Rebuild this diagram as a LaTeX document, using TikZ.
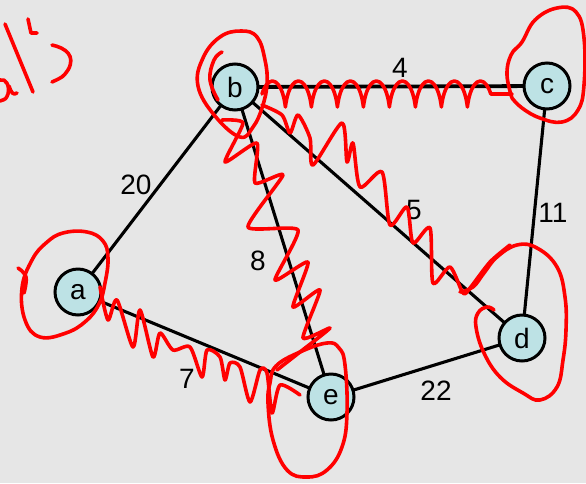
\documentclass[tikz,border=0pt]{standalone}
\usepackage{fontspec}
\setmainfont{Liberation Sans}
\usetikzlibrary{decorations.pathmorphing}
\definecolor{bg}{HTML}{E6E6E6}
\definecolor{nodefill}{HTML}{BDE2E5}
\definecolor{ink}{HTML}{FF0000}
\begin{document}
\begin{tikzpicture}[x=1pt,y=-1pt,
  vertex/.style={circle, draw=black, line width=3pt, fill=nodefill, minimum size=46pt, inner sep=0pt, font=\fontsize{28}{30}\selectfont},
  edge/.style={line width=3.1pt, draw=black},
  lbl/.style={font=\fontsize{28}{30}\selectfont, inner sep=0pt},
  scrib/.style={draw=ink, line width=3.6pt, line cap=round, line join=round}]
\fill[bg] (0,0) rectangle (586,483);
\useasboundingbox (0,0) rectangle (586,483);
% node positions
\coordinate (pa) at (78,292);
\coordinate (pb) at (235,87);
\coordinate (pc) at (547,86);
\coordinate (pd) at (522,338);
\coordinate (pe) at (331,397);
% edges (centre to centre, nodes drawn on top)
\draw[edge] (pa) -- (pb);
\draw[edge] (pa) -- (pe);
\draw[edge] (pb) -- (pe);
\draw[edge] (pb) -- (pd);
\draw[edge, line width=3.8pt] (pb) -- (pc);
\draw[edge] (pc) -- (pd);
\draw[edge] (pd) -- (pe);
% nodes
\node[vertex] (a) at (pa) {a};
\node[vertex] (b) at (pb) {b};
\node[vertex] (c) at (pc) {c};
\node[vertex] (d) at (pd) {d};
\node[vertex] (e) at (pe) {e};
% labels
\node[lbl] (l4) at (400,68) {4};
\node[lbl] (l20) at (136,185) {20};
\node[lbl] (l5) at (414,210) {5};
\node[lbl] (l11) at (553,213) {11};
\node[lbl] (l8) at (258,261) {8};
\node[lbl] (l7) at (187,379) {7};
\node[lbl] (l22) at (436,391) {22};
% ---- red annotations ----
% handwriting top left
\draw[scrib] (5,24) -- (33,92);
\draw[scrib] (28,19) .. controls (30,26) .. (31,33) -- (37,33);
\draw[scrib] (52,45) .. controls (66,48) and (76,56) .. (68,70) .. controls (63,77) .. (52,82);
\draw[scrib] (0,80) .. controls (6,78) and (10,86) .. (8,94) .. controls (6,99) .. (0,101);
\draw[scrib] (9,86) .. controls (11,92) and (13,96) .. (17,93);
% loop around b
\draw[scrib] plot[smooth cycle, tension=0.7] coordinates {(220,37) (241,31) (257,37) (265,60) (267,84) (262,108) (253,127) (240,137) (215,116) (198,86) (203,58)};
\draw[scrib] plot[smooth, tension=0.7] coordinates {(222,52) (214,60) (210,80) (218,100)};
% loop around c
\draw[scrib] plot[smooth, tension=0.7] coordinates {(512,98) (507,75) (511,55) (522,42) (535,20) (557,8) (576,12) (584,38) (584,85) (578,110) (562,122) (540,118) (522,108) (512,98)};
% loop around a
\draw[scrib] plot[smooth cycle, tension=0.7] coordinates {(63,233) (87,232) (103,241) (108,258) (105,283) (99,304) (86,321) (66,333) (40,337) (25,320) (22,288) (32,260) (46,243)};
\draw[scrib] plot[smooth, tension=0.7] coordinates {(18,268) (26,277) (24,293)};
% loop around e
\draw[scrib] plot[smooth cycle, tension=0.7] coordinates {(327,343) (339,348) (345,365) (347,413) (342,447) (327,470) (307,477) (287,470) (273,440) (268,403) (270,383) (276,366) (300,352)};
% loop around d
\draw[scrib] plot[smooth, tension=0.7] coordinates {(460,292) (473,287) (484,273) (497,257) (517,245) (537,248) (557,267) (565,297) (566,330) (563,360) (557,387) (540,400) (523,393) (500,377) (484,353) (476,327) (478,313) (487,307) (494,310)};
% scribble b--c
\coordinate (bc1) at (262,94);
\coordinate (bc2) at (512,94);
\draw[scrib, decorate, decoration={coil, amplitude=13pt, segment length=26pt, aspect=0.3}] (bc1) -- (bc2);
% scribble b--d
\draw[scrib] plot[smooth, tension=0.45] coordinates {(262,105) (282,115) (290,133) (298,115) (310,138) (313,165) (342,123) (347,162) (353,143) (360,187) (382,172) (390,225) (407,207) (413,243) (430,228) (433,283) (450,267) (463,293) (470,288) (490,262) (510,245)};
% scribble b--e
\draw[scrib] plot[smooth, tension=0.35] coordinates {(222,120) (243,123) (225,162) (257,143) (255,183) (283,175) (248,227) (298,230) (275,280) (308,262) (293,307) (320,290) (303,338) (330,328) (300,352) (277,370)};
% scribble a--e
\draw[scrib] plot[smooth, tension=0.45] coordinates {(100,287) (108,320) (117,300) (133,347) (140,310) (153,357) (160,333) (173,350) (190,347) (202,377) (207,350) (220,357) (225,380) (230,363) (240,367) (250,402) (260,370) (267,373) (272,413) (280,385) (300,395)};
\end{tikzpicture}
\end{document}
